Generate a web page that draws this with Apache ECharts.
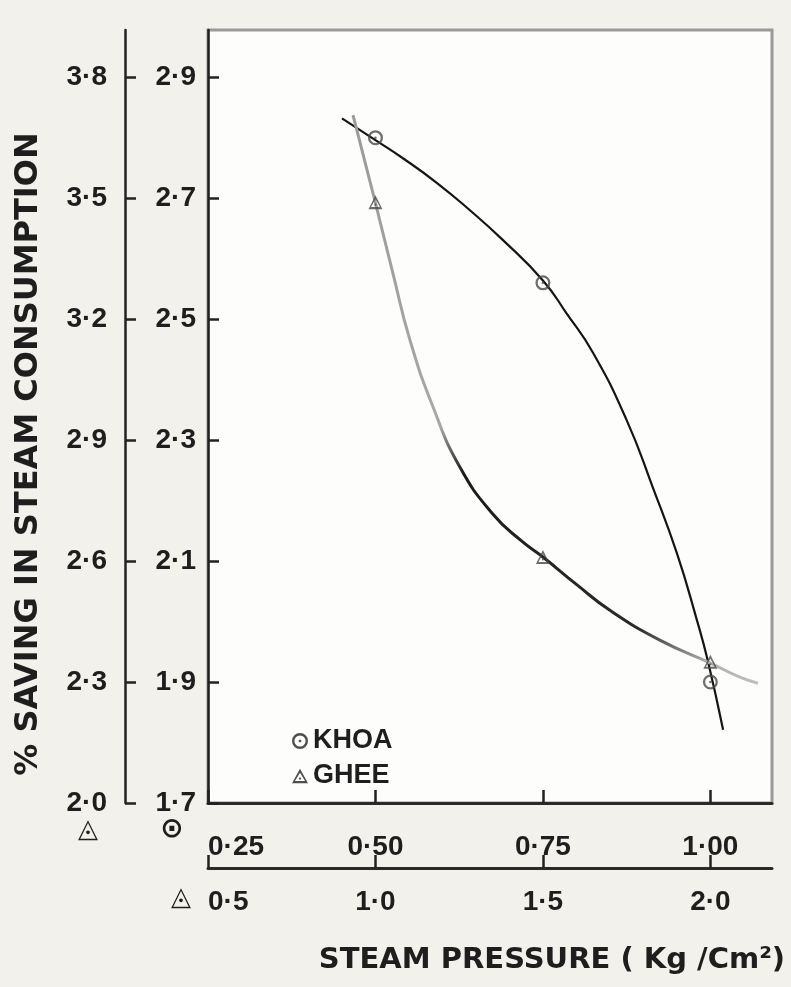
<!DOCTYPE html>
<html>
<head>
<meta charset="utf-8">
<script src="https://cdn.jsdelivr.net/npm/echarts@6/dist/echarts.min.js"></script>
<style>
html,body{margin:0;padding:0;background:#f3f1ec;}
#c{width:791px;height:987px;}
</style>
</head>
<body>
<div id="c"></div>
<script>
// ---- data ----
const khoaPressureTicks = [0.25, 0.50, 0.75, 1.00];   // circle x-axis (Kg/cm2)
const gheePressureTicks = [0.5, 1.0, 1.5, 2.0];       // triangle x-axis
const khoaSavingTicks = [1.7, 1.9, 2.1, 2.3, 2.5, 2.7, 2.9]; // inner y-axis (circle)
const gheeSavingTicks = [2.0, 2.3, 2.6, 2.9, 3.2, 3.5, 3.8]; // outer y-axis (triangle)

const khoaPressure = [0.50, 0.75, 1.00];
const khoaSaving   = [2.80, 2.56, 1.90];
const gheePressure = [1.0, 1.5, 2.0];
const gheeSaving   = [3.49, 2.61, 2.35];

// fitted curves
const khoaCurveX = [0.450, 0.50, 0.541, 0.592, 0.641, 0.690, 0.75, 0.785, 0.825, 0.875, 0.914, 0.950, 0.980, 0.996, 1.019];
const khoaCurveY = [2.832, 2.796, 2.766, 2.725, 2.680, 2.631, 2.564, 2.510, 2.444, 2.333, 2.222, 2.113, 2.002, 1.936, 1.821];
const gheeCurveX = [0.933, 1.0, 1.052, 1.103, 1.172, 1.252, 1.351, 1.436, 1.5, 1.600, 1.700, 1.849, 2.0, 2.088, 2.142];
const gheeCurveY = [3.706, 3.488, 3.314, 3.148, 2.982, 2.833, 2.716, 2.650, 2.61, 2.542, 2.478, 2.404, 2.347, 2.312, 2.297];

const khoaXMax = 1.092, gheeXMax = 2.184;
const khoaYMax = 2.978, gheeYMax = 3.917;

// ---- chart ----
const zip = (a, b) => a.map((v, i) => [v, b[i]]);
const dot = (d) => (v) => v.toFixed(d).replace('.', '\u00B7');
const FONT = '"Liberation Sans", Arial, sans-serif';
const INK = '#1e1e1e';

const circleSym = 'path://M2,12A10,10 0 1,1 22,12A10,10 0 1,1 2,12Z M5,12A7,7 0 1,0 19,12A7,7 0 1,0 5,12Z M10.3,12A1.7,1.7 0 1,1 13.7,12A1.7,1.7 0 1,1 10.3,12Z';
const triSym = 'path://M12,1L23,21L1,21Z M12,6.5L5,18L19,18Z M10.4,14.5A1.6,1.6 0 1,1 13.6,14.5A1.6,1.6 0 1,1 10.4,14.5Z';

const chart = echarts.init(document.getElementById('c'), null, {renderer: 'canvas'});

function xAxisCfg(ticks, max, digits, offset) {
  return {
    type: 'value', position: 'bottom', offset: offset,
    min: ticks[0], max: max, interval: ticks[1] - ticks[0],
    axisLine: {show: true, onZero: false, lineStyle: {color: '#2a2a2a', width: 3}},
    axisTick: {show: true, inside: true, length: 13, lineStyle: {color: '#222', width: 2.5}},
    axisLabel: {formatter: dot(digits), fontFamily: FONT, fontSize: 28, fontWeight: 'bold', color: INK,
                margin: offset ? 20 : 30, showMaxLabel: false, alignMinLabel: 'left'},
    splitLine: {show: false}
  };
}
function yAxisCfg(ticks, max, offset, margin) {
  return {
    type: 'value', position: 'left', offset: offset,
    min: ticks[0], max: max, interval: +(ticks[1] - ticks[0]).toFixed(2),
    axisLine: {show: true, onZero: false, lineStyle: {color: '#222', width: 2.5}},
    axisTick: {show: true, inside: true, length: 11, lineStyle: {color: '#222', width: 2.5}},
    axisLabel: {formatter: dot(1), fontFamily: FONT, fontSize: 28, fontWeight: 'bold', color: INK,
                margin: margin, showMaxLabel: false},
    splitLine: {show: false}
  };
}

chart.setOption({
  animation: false,
  backgroundColor: '#f3f1ec',
  grid: {left: 208, right: 19, top: 30, bottom: 184, show: true,
         backgroundColor: '#fdfdfc', borderColor: '#9a9a9a', borderWidth: 3},
  xAxis: [
    xAxisCfg(khoaPressureTicks, khoaXMax, 2, 0),
    xAxisCfg(gheePressureTicks, gheeXMax, 1, 65)
  ],
  yAxis: [
    yAxisCfg(khoaSavingTicks, khoaYMax, 0, 12),
    yAxisCfg(gheeSavingTicks, gheeYMax, 83, 18)
  ],
  legend: {
    data: [{name: 'KHOA', itemStyle: {color: '#222'}}, {name: 'GHEE', itemStyle: {color: '#222'}}],
    orient: 'vertical', left: 292, top: 726,
    itemWidth: 16, itemHeight: 16, itemGap: 5, padding: 0,
    textStyle: {fontFamily: FONT, fontSize: 27, fontWeight: 'bold', color: INK, lineHeight: 30}
  },
  series: [
    {name: 'KHOA curve', type: 'line', xAxisIndex: 0, yAxisIndex: 0,
     data: zip(khoaCurveX, khoaCurveY), smooth: 0.5, showSymbol: false, silent: true,
     lineStyle: {color: '#151515', width: 2.2}, z: 2},
    {name: 'GHEE curve', type: 'line', xAxisIndex: 1, yAxisIndex: 1,
     data: zip(gheeCurveX, gheeCurveY), smooth: 0.5, showSymbol: false, silent: true,
     lineStyle: {width: 3, color: new echarts.graphic.LinearGradient(0, 0, 0, 1, [
       {offset: 0, color: '#9a9a9a'}, {offset: 0.55, color: '#a8a8a8'},
       {offset: 0.63, color: '#1a1a1a'}, {offset: 0.9, color: '#2a2a2a'},
       {offset: 0.96, color: '#b0b0b0'}, {offset: 1, color: '#c0c0c0'}])}, z: 2},
    {name: 'KHOA', type: 'scatter', xAxisIndex: 0, yAxisIndex: 0,
     data: zip(khoaPressure, khoaSaving), symbol: circleSym, symbolSize: 15,
     itemStyle: {color: '#4a4a4a'}, z: 5},
    {name: 'GHEE', type: 'scatter', xAxisIndex: 1, yAxisIndex: 1,
     data: zip(gheePressure, gheeSaving), symbol: triSym, symbolSize: 14,
     itemStyle: {color: '#4a4a4a'}, z: 5}
  ],
  graphic: [
    {type: 'text', x: 29, y: 454, rotation: Math.PI / 2,
     style: {text: '% SAVING IN STEAM CONSUMPTION', font: 'bold 32px "DejaVu Sans", sans-serif',
             fill: INK, align: 'center', verticalAlign: 'middle'}},
    {type: 'text', x: 552, y: 960,
     style: {text: 'STEAM PRESSURE ( Kg /Cm\u00B2)', font: 'bold 29px "DejaVu Sans", sans-serif',
             fill: INK, align: 'center', verticalAlign: 'middle'}},
    {type: 'text', x: 88, y: 830,
     style: {text: '\u25EC', font: 'bold 26px "DejaVu Sans", sans-serif', fill: INK,
             align: 'center', verticalAlign: 'middle'}},
    {type: 'text', x: 172, y: 830,
     style: {text: '\u2299', font: 'bold 28px "DejaVu Sans", sans-serif', fill: INK,
             align: 'center', verticalAlign: 'middle'}},
    {type: 'text', x: 181, y: 898,
     style: {text: '\u25EC', font: 'bold 26px "DejaVu Sans", sans-serif', fill: INK,
             align: 'center', verticalAlign: 'middle'}}
  ]
});
</script>
</body>
</html>
